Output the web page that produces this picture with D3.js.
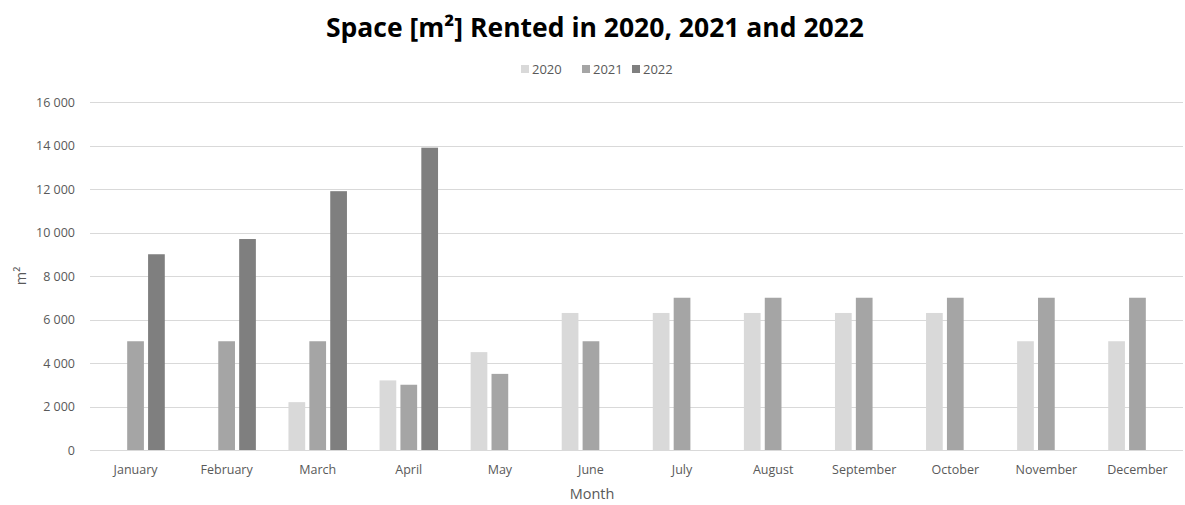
<!DOCTYPE html>
<html>
<head>
<meta charset="utf-8">
<script src="https://cdn.jsdelivr.net/npm/d3@7"></script>
<style>
  html, body { margin: 0; padding: 0; background: #fff; }
  svg { display: block; }
  text { font-family: "Open Sans", "Liberation Sans", sans-serif; }
</style>
</head>
<body>
<svg id="chart" width="1185" height="505"></svg>
<script>
// Monthly rented space, m²; null where a year has no bar
const months = ["January","February","March","April","May","June","July","August","September","October","November","December"];
const years = ["2020","2021","2022"];
const rent2020 = [null, null, 2200, 3200, 4500, 6300, 6300, 6300, 6300, 6300, 5000, 5000];
const rent2021 = [5000, 5000, 5000, 3000, 3500, 5000, 7000, 7000, 7000, 7000, 7000, 7000];
const rent2022 = [9000, 9700, 11900, 13900, null, null, null, null, null, null, null, null];
const yTicks = [0, 2000, 4000, 6000, 8000, 10000, 12000, 14000, 16000];
const colors = ["#d9d9d9", "#a5a5a5", "#7f7f7f"];

const series = [rent2020, rent2021, rent2022];
const width = 1185, height = 505;
const margin = { top: 102, right: 2, bottom: 55, left: 90 };

const svg = d3.select("#chart");

const x = d3.scaleBand().domain(months).range([margin.left, width - margin.right]).paddingInner(0).paddingOuter(0);
const xInner = d3.scaleBand().domain(years).range([0, x.bandwidth()]).paddingInner(0.2).paddingOuter(0.78);
const y = d3.scaleLinear().domain([0, 16000]).range([height - margin.bottom, margin.top]);

// Grid lines
svg.append("g")
  .selectAll("line")
  .data(yTicks)
  .join("line")
  .attr("x1", margin.left)
  .attr("x2", width - margin.right)
  .attr("y1", d => Math.round(y(d)) + 0.5)
  .attr("y2", d => Math.round(y(d)) + 0.5)
  .attr("stroke", "#d9d9d9")
  .attr("stroke-width", 1);

// Y axis labels, space as thousands separator
const yAxis = d3.axisLeft(y).tickValues(yTicks).tickSize(0).tickPadding(0)
  .tickFormat(d => d3.format(",")(d).replace(/,/g, " "));
svg.append("g")
  .attr("transform", `translate(${margin.left - 15},0)`)
  .call(yAxis)
  .call(g => g.select(".domain").remove())
  .call(g => g.selectAll("text").attr("fill", "#595959").style("font-size", "12.5px").style("font-family", "'Open Sans', sans-serif"));

// Bars
const groups = svg.append("g")
  .selectAll("g")
  .data(months)
  .join("g")
  .attr("transform", d => `translate(${x(d)},0)`);

groups.selectAll("rect")
  .data((m, i) => years.map((yr, k) => ({ yr, k, v: series[k][i] })).filter(d => d.v != null))
  .join("rect")
  .attr("x", d => xInner(d.yr))
  .attr("width", xInner.bandwidth())
  .attr("y", d => y(d.v))
  .attr("height", d => y(0) - y(d.v))
  .attr("fill", d => colors[d.k]);

// X axis labels
const xAxis = d3.axisBottom(x).tickSize(0).tickPadding(0);
svg.append("g")
  .attr("transform", `translate(0,${y(0) + 15})`)
  .call(xAxis)
  .call(g => g.select(".domain").remove())
  .call(g => g.selectAll("text").attr("fill", "#595959").style("font-size", "12.5px").style("font-family", "'Open Sans', sans-serif"));

// Axis titles
svg.append("text")
  .attr("x", 592).attr("y", 499)
  .attr("text-anchor", "middle")
  .attr("fill", "#595959")
  .style("font-size", "14.5px")
  .text("Month");

svg.append("text")
  .attr("transform", "translate(26,276) rotate(-90)")
  .attr("text-anchor", "middle")
  .attr("fill", "#595959")
  .style("font-size", "14.5px")
  .text("m²");

// Title
svg.append("text")
  .attr("x", 595).attr("y", 37)
  .attr("text-anchor", "middle")
  .attr("fill", "#000")
  .style("font-size", "26.5px")
  .style("font-weight", "bold")
  .text("Space [m²] Rented in 2020, 2021 and 2022");

// Legend
const legend = svg.append("g").attr("transform", "translate(521,63)");
const legendX = [0, 61, 111];
years.forEach((yr, k) => {
  const g = legend.append("g").attr("transform", `translate(${legendX[k]},0)`);
  g.append("rect").attr("width", 8).attr("height", 8).attr("y", 2).attr("fill", colors[k]);
  g.append("text").attr("x", 11).attr("y", 11).attr("fill", "#595959").style("font-size", "13px").text(yr);
});
</script>
</body>
</html>
